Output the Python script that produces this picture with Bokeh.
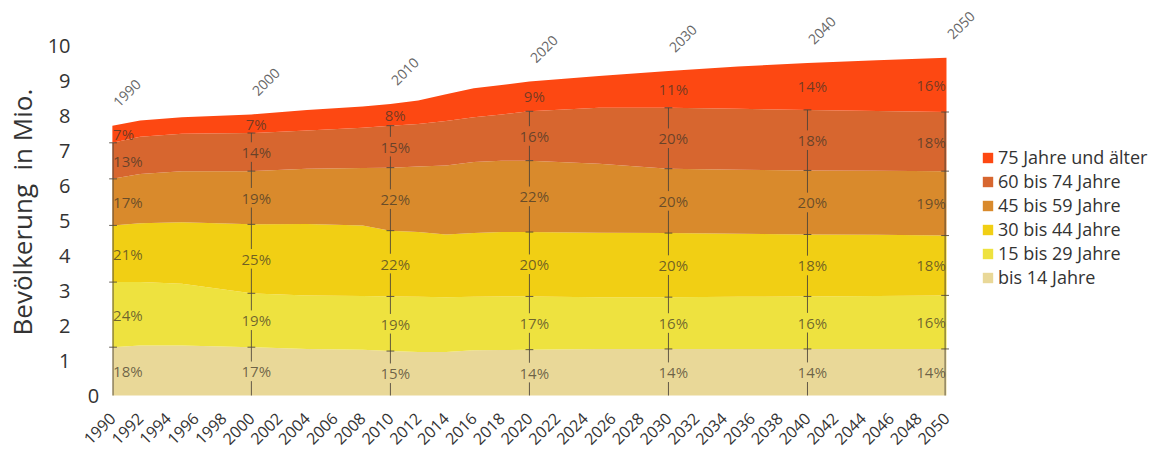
import math

from bokeh.core.properties import value
from bokeh.embed import file_html
from bokeh.models import (ColumnDataSource, FixedTicker, Label, Legend,
                          LegendItem, Range1d)
from bokeh.plotting import figure
from bokeh.resources import INLINE

FONT = "Open Sans"

# Years with readings of the population (in millions) per age group
years = [1990, 1992, 1995, 2000, 2004, 2008, 2010, 2012, 2014, 2016, 2018,
         2020, 2025, 2030, 2035, 2040, 2045, 2050]

bis_14 = [1.38, 1.43, 1.43, 1.38, 1.33, 1.31, 1.27, 1.24, 1.24, 1.29, 1.30,
          1.31, 1.33, 1.33, 1.33, 1.33, 1.33, 1.33]
j15_29 = [1.86, 1.81, 1.76, 1.54, 1.53, 1.53, 1.56, 1.58, 1.57, 1.53, 1.53,
          1.52, 1.48, 1.48, 1.49, 1.50, 1.51, 1.53]
j30_44 = [1.62, 1.68, 1.76, 1.97, 2.04, 2.02, 1.88, 1.85, 1.79, 1.82, 1.84,
          1.84, 1.84, 1.83, 1.80, 1.77, 1.75, 1.71]
j45_59 = [1.33, 1.41, 1.46, 1.52, 1.58, 1.64, 1.80, 1.87, 1.97, 2.03, 2.04,
          2.04, 1.97, 1.84, 1.83, 1.83, 1.83, 1.84]
j60_74 = [1.03, 1.06, 1.07, 1.09, 1.09, 1.15, 1.20, 1.22, 1.27, 1.28, 1.32,
          1.41, 1.60, 1.74, 1.74, 1.73, 1.71, 1.69]
j75_plus = [0.49, 0.47, 0.47, 0.53, 0.59, 0.61, 0.62, 0.67, 0.77, 0.83, 0.84,
            0.85, 0.91, 1.05, 1.21, 1.34, 1.45, 1.55]

groups = ["bis 14 Jahre", "15 bis 29 Jahre", "30 bis 44 Jahre",
          "45 bis 59 Jahre", "60 bis 74 Jahre", "75 Jahre und älter"]
colors = ["#E9D898", "#EEE23F", "#F1CF14", "#D98A2C", "#D7662F", "#FD4812"]

# Shares (%) per age group at the marked decades
decades = [1990, 2000, 2010, 2020, 2030, 2040, 2050]
share_bis_14 = [18, 17, 15, 14, 14, 14, 14]
share_15_29 = [24, 19, 19, 17, 16, 16, 16]
share_30_44 = [21, 25, 22, 20, 20, 18, 18]
share_45_59 = [17, 19, 22, 22, 20, 20, 19]
share_60_74 = [13, 14, 15, 16, 20, 18, 18]
share_75_plus = [7, 7, 8, 9, 11, 14, 16]

x_ticks = list(range(1990, 2051, 2))
y_ticks = list(range(0, 11))

series = [bis_14, j15_29, j30_44, j45_59, j60_74, j75_plus]
shares = [share_bis_14, share_15_29, share_30_44, share_45_59, share_60_74,
          share_75_plus]
keys = [f"g{i}" for i in range(len(series))]

src = ColumnDataSource(dict(year=years, **{k: s for k, s in zip(keys, series)}))

# Plot geometry: the stack spans 1990..2050 over 838 px, 35 px per million.
# The frame reaches past the stack so that the captions and the legend fit in.
PX_YEAR = 838 / 60
PX_UNIT = 35.0
FRAME_LEFT, FRAME_BOTTOM, ZERO_PX = 78, 403, 395
x_start = 1990 - (107 - FRAME_LEFT) / PX_YEAR
x_end = 2050 + (1159 - 945) / PX_YEAR
y_start = -(FRAME_BOTTOM - ZERO_PX) / PX_UNIT
y_end = ZERO_PX / PX_UNIT

p = figure(width=1159, height=452,
           x_range=Range1d(x_start, x_end), y_range=Range1d(y_start, y_end),
           output_backend="svg", toolbar_location=None,
           min_border_left=FRAME_LEFT, min_border_right=0,
           min_border_top=0, min_border_bottom=452 - FRAME_BOTTOM)
p.outline_line_color = None
p.grid.visible = False
p.background_fill_color = "white"

areas = p.varea_stack(stackers=keys, x="year", fill_color=colors, source=src)


def stack_at(yr):
    i = years.index(yr)
    out = [0.0]
    for s in series:
        out.append(out[-1] + s[i])
    return out


# Decade markers: vertical line through the lower five bands, cross ticks at
# band edges and share labels at band centres.
seg = dict(x0=[], y0=[], x1=[], y1=[])
lab = {"left": dict(x=[], y=[], t=[]),
       "center": dict(x=[], y=[], t=[]),
       "right": dict(x=[], y=[], t=[])}
gap = 0.28
for j, yr in enumerate(decades):
    b = stack_at(yr)
    if yr == decades[0]:
        lx, align, xl = yr + 0.05, "left", yr + 0.05
    elif yr == decades[-1]:
        lx, align, xl = yr - 0.05, "right", yr - 0.1
    else:
        lx, align, xl = yr + 0.35, "center", yr
    for k in range(len(series)):
        mid = (b[k] + b[k + 1]) / 2
        lab[align]["x"].append(lx)
        lab[align]["y"].append(mid)
        lab[align]["t"].append(f"{shares[k][j]}%")
        if k < len(series) - 1:
            if align == "center":
                seg["x0"] += [xl, xl]
                seg["x1"] += [xl, xl]
                seg["y0"] += [b[k], mid + gap]
                seg["y1"] += [mid - gap, b[k + 1]]
            else:
                seg["x0"].append(xl)
                seg["x1"].append(xl)
                seg["y0"].append(b[k])
                seg["y1"].append(b[k + 1])
            seg["x0"].append(xl - 0.28)
            seg["x1"].append(xl + 0.28)
            seg["y0"].append(b[k + 1])
            seg["y1"].append(b[k + 1])

p.segment(x0="x0", y0="y0", x1="x1", y1="y1", source=ColumnDataSource(seg),
          line_color="#4a4238", line_alpha=0.85, line_width=1)

for align, d in lab.items():
    p.text(x="x", y="y", text="t", source=ColumnDataSource(d),
           text_align=align, text_baseline="middle",
           text_font=value(FONT), text_font_size="15px",
           text_color="#3d3528", text_alpha=0.72)

# Decade captions above the stack
for yr in decades:
    top = stack_at(yr)[-1]
    p.add_layout(Label(x=yr + 1.05, y=top + 0.93, text=str(yr),
                       angle=math.pi / 4, text_align="center",
                       text_baseline="middle", text_font=FONT,
                       text_font_size="14px", text_color="#666666"))

# Axes
p.xaxis.ticker = FixedTicker(ticks=x_ticks)
p.xaxis.major_label_orientation = math.pi / 4
p.xaxis.axis_line_color = None
p.xaxis.major_tick_line_color = None
p.xaxis.minor_tick_line_color = None
p.xaxis.major_label_standoff = 6
p.xaxis.major_label_text_font = FONT
p.xaxis.major_label_text_font_size = "16px"
p.xaxis.major_label_text_color = "#333333"

p.yaxis.ticker = FixedTicker(ticks=y_ticks)
p.yaxis.major_label_overrides = {0: ""}
p.yaxis.axis_line_color = None
p.yaxis.major_tick_line_color = None
p.yaxis.minor_tick_line_color = None
p.yaxis.major_label_standoff = 7
p.yaxis.major_label_text_font = FONT
p.yaxis.major_label_text_font_size = "20px"
p.yaxis.major_label_text_color = "#333333"
# trailing no-break spaces move the rotated caption a little lower
p.yaxis.axis_label = "Bevölkerung\u00a0 in Mio.\u00a0\u00a0\u00a0"
p.yaxis.axis_label_text_font = FONT
p.yaxis.axis_label_text_font_size = "26px"
p.yaxis.axis_label_text_font_style = "normal"
p.yaxis.axis_label_text_color = "#333333"
p.yaxis.axis_label_standoff = 5

p.add_layout(Label(x=1990 - 19 / PX_YEAR, y=0, text="0", text_align="center",
                   text_baseline="middle", text_font=FONT,
                   text_font_size="20px", text_color="#333333"))

# Legend, oldest group on top
items = [LegendItem(label=g, renderers=[r])
         for g, r in reversed(list(zip(groups, areas)))]
legend = Legend(items=items, location=(976 - FRAME_LEFT, FRAME_BOTTOM - 289),
                orientation="vertical",
                label_text_font=FONT, label_text_font_size="18px",
                label_text_color="#333333", glyph_width=13, glyph_height=13,
                label_height=24, label_standoff=4, spacing=0, padding=0,
                margin=0, border_line_color=None, background_fill_alpha=0)
p.add_layout(legend)

open("out.html", "w").write(file_html(p, INLINE))
